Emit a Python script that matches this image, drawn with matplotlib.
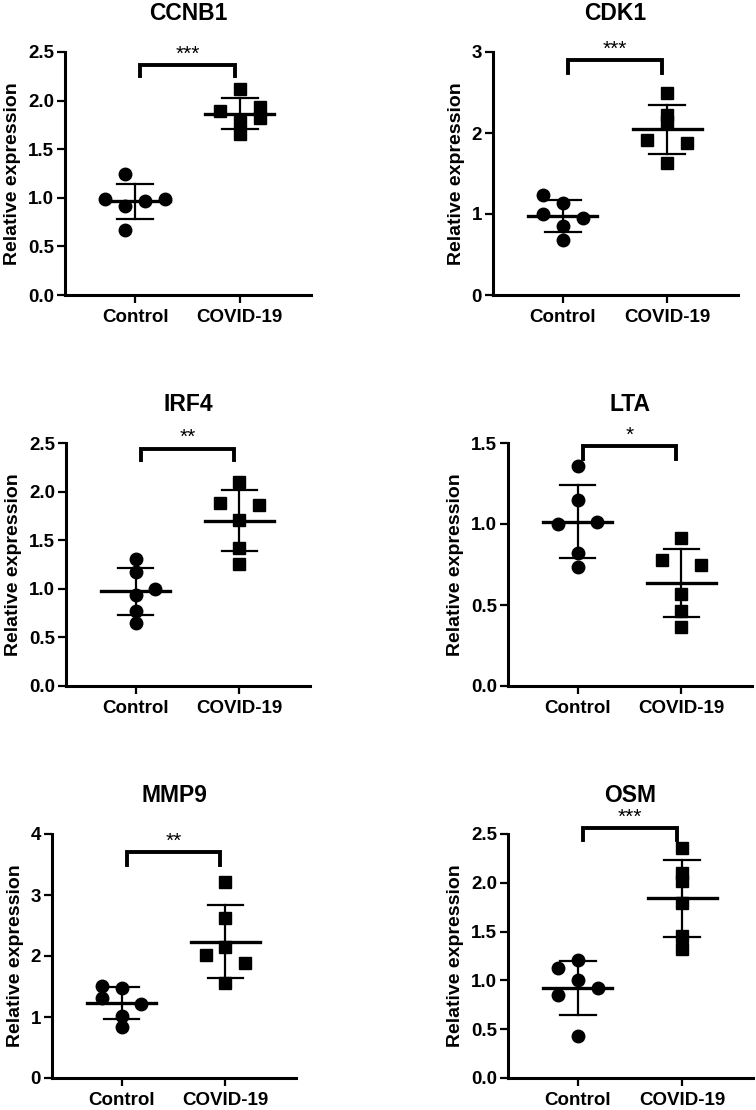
import matplotlib
matplotlib.use("Agg")
import matplotlib.pyplot as plt
import numpy as np

plt.rcParams['font.family'] = ['Liberation Sans', 'DejaVu Sans']
plt.rcParams['font.weight'] = 'bold'

# relative expression, 6 samples per group
genes = ["CCNB1", "CDK1", "IRF4", "LTA", "MMP9", "OSM"]
groups = ["Control", "COVID-19"]

ccnb1_ctrl = [1.24, 0.99, 0.92, 0.97, 0.99, 0.67]
ccnb1_covid = [2.12, 1.89, 1.93, 1.82, 1.78, 1.66]
cdk1_ctrl = [1.24, 1.14, 1.00, 0.945, 0.855, 0.68]
cdk1_covid = [2.49, 2.22, 2.14, 1.91, 1.88, 1.63]
irf4_ctrl = [1.31, 1.175, 0.995, 0.935, 0.775, 0.645]
irf4_covid = [2.10, 1.88, 1.86, 1.705, 1.415, 1.255]
lta_ctrl = [1.36, 1.15, 1.00, 1.015, 0.82, 0.735]
lta_covid = [0.915, 0.775, 0.75, 0.565, 0.46, 0.365]
mmp9_ctrl = [1.51, 1.47, 1.315, 1.22, 1.02, 0.84]
mmp9_covid = [3.21, 2.63, 2.14, 2.015, 1.88, 1.55]
osm_ctrl = [1.21, 1.13, 1.00, 0.925, 0.85, 0.43]
osm_covid = [2.36, 2.10, 2.02, 1.79, 1.455, 1.325]

ctrl_vals = [ccnb1_ctrl, cdk1_ctrl, irf4_ctrl, lta_ctrl, mmp9_ctrl, osm_ctrl]
covid_vals = [ccnb1_covid, cdk1_covid, irf4_covid, lta_covid, mmp9_covid, osm_covid]
stars = ["***", "***", "**", "*", "**", "***"]
ytops = [2.5, 3, 2.5, 1.5, 4, 2.5]
ysteps = [0.5, 1, 0.5, 0.5, 1, 0.5]

# ---- layout only below ----
# scatter slot of each point (in marker widths, GraphPad-like spread)
ctrl_slot = [[-0.5, -1.5, -0.5, 0.5, 1.5, -0.5],
             [-1, 0, -1, 1, 0, 0],
             [0, 0, 1, 0, 0, 0],
             [0, 0, -1, 1, 0, 0],
             [-1, 0, -1, 1, 0, 0],
             [0, -1, 0, 1, -1, 0]]
covid_slot = [[0, -1, 1, 1, 0, 0],
              [0, 0, 0, -1, 1, 0],
              [0, -1, 1, 0, 0, 0],
              [0, -1, 1, 0, 0, 0],
              [0, 0, 0, -1, 1, 0],
              [0, 0, 0, 0, 0, 0]]
# bracket top / drop as fraction of axis height
br_top = [0.945, 0.966, 0.977, 0.986, 0.925, 1.023]
br_drop = [0.045, 0.052, 0.049, 0.051, 0.05, 0.048]
# axes boxes in pixels: left, right, top, bottom
boxes = [(65, 311, 52, 295), (493, 738, 52, 295),
         (66, 310, 443, 686), (508, 752, 443, 686),
         (52, 296, 834, 1078), (508, 753, 834, 1078)]

W, H = 756, 1110
fig = plt.figure(figsize=(W / 100, H / 100), dpi=100)

step = 0.19
for i in range(6):
    l, r, t, b = boxes[i]
    ax = fig.add_axes([l / W, 1 - b / H, (r - l) / W, (b - t) / H])
    for g, (vals, slots, mk) in enumerate([(ctrl_vals[i], ctrl_slot[i], 'o'),
                                           (covid_vals[i], covid_slot[i], 's')]):
        v = np.array(vals)
        xs = g + np.array(slots) * step
        ax.plot(xs, v, mk, color='black', ms=9 if mk == 'o' else 8.5, ls='none', zorder=3)
        m = v.mean()
        sd = v.std(ddof=1)
        ax.plot([g - 0.33, g + 0.33], [m, m], color='black', lw=2.4, zorder=4)
        ax.plot([g, g], [m - sd, m + sd], color='black', lw=1.6, zorder=4)
        ax.plot([g - 0.17, g + 0.17], [m + sd, m + sd], color='black', lw=1.6, zorder=4)
        ax.plot([g - 0.17, g + 0.17], [m - sd, m - sd], color='black', lw=1.6, zorder=4)

    # significance bracket
    top = br_top[i] * ytops[i]
    drop = br_drop[i] * ytops[i]
    ax.plot([0.05, 0.05, 0.95, 0.95], [top - drop, top, top, top - drop],
            color='black', lw=2.8, clip_on=False, solid_joinstyle='miter')
    ax.text(0.5, top + 0.006 * ytops[i], stars[i], ha='center', va='bottom',
            fontsize=15, fontweight='normal', clip_on=False)

    ax.set_xlim(-0.67, 1.68)
    ax.set_ylim(0, ytops[i])
    yt = np.arange(0, ytops[i] + 1e-9, ysteps[i])
    ax.set_yticks(yt)
    if ysteps[i] < 1:
        ax.set_yticklabels(["%.1f" % y for y in yt])
    else:
        ax.set_yticklabels(["%d" % y for y in yt])
    ax.set_xticks([0, 1])
    ax.set_xticklabels(groups)
    ax.spines['top'].set_visible(False)
    ax.spines['right'].set_visible(False)
    ax.spines['left'].set_linewidth(2.2)
    ax.spines['bottom'].set_linewidth(2.2)
    ax.tick_params(axis='both', width=1.6, length=6, labelsize=13.5, pad=2)
    ax.tick_params(axis='x', pad=4)
    ax.set_ylabel("Relative expression", fontsize=14, fontweight='bold', labelpad=5)
    ax.set_title(genes[i], fontsize=16.5, fontweight='bold', pad=23)

fig.savefig("out.png", dpi=100)
